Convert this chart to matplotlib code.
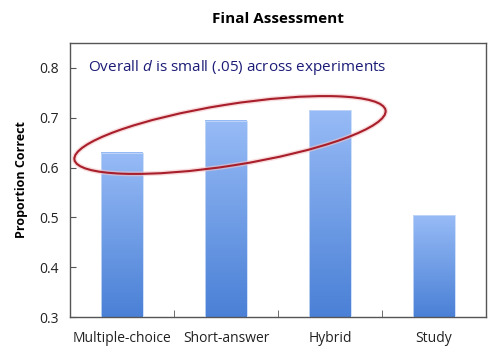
import numpy as np
import matplotlib
matplotlib.use("Agg")
import matplotlib.pyplot as plt
from matplotlib.patches import Ellipse
from matplotlib.colors import LinearSegmentedColormap

categories = ["Multiple-choice", "Short-answer", "Hybrid", "Study"]
values = [0.630, 0.694, 0.715, 0.504]
yticks = [0.3, 0.4, 0.5, 0.6, 0.7, 0.8]

plt.rcParams['font.family'] = ['Open Sans', 'DejaVu Sans']
plt.rcParams['mathtext.fontset'] = 'custom'
plt.rcParams['mathtext.it'] = 'Open Sans:italic'
plt.rcParams['mathtext.rm'] = 'Open Sans'

fig = plt.figure(figsize=(5, 3.52), dpi=100)
ax = fig.add_axes([0.14, 0.0994, 0.832, 0.7786])

x = np.arange(len(categories))
bars = ax.bar(x, values, width=0.4, bottom=0, color='none', edgecolor='none')
ax.set_xlim(-0.5, len(categories) - 0.5)
ax.set_ylim(0.3, 0.85)

# gradient fill for each bar
cmap = LinearSegmentedColormap.from_list("bluegrad", ["#4a80d6", "#97bbf6"])
grad = np.linspace(0, 1, 256).reshape(-1, 1)
for b in bars:
    x0 = b.get_x()
    x1 = x0 + b.get_width()
    top = b.get_height()
    ax.imshow(grad, cmap=cmap, origin='lower', aspect='auto',
              extent=[x0, x1, 0.3, top], zorder=2)
    ax.plot([x0, x0, x1, x1], [0.3, top, top, 0.3], color='#c7daf7',
            lw=0.6, zorder=3)

ax.set_yticks(yticks)
ax.set_yticklabels(["%.1f" % v for v in yticks], fontsize=10, color='#222222')
ax.set_xticks(x)
ax.set_xticklabels(categories, fontsize=10, color='#222222')
ax.set_xticks(np.arange(0.5, len(categories) - 1), minor=True)
ax.tick_params(axis='x', which='major', length=0, pad=10)
ax.tick_params(axis='x', which='minor', direction='in', length=5, color='#555555')
ax.tick_params(axis='y', direction='in', length=4, color='#555555', pad=8)
for s in ax.spines.values():
    s.set_color('#555555')
    s.set_linewidth(1.0)

ax.set_ylabel("Proportion Correct", fontsize=9, fontweight='bold', labelpad=8)
ax.set_title("Final Assessment", fontsize=11, fontweight='bold', pad=14)

ax.text(0.043, 0.80, "Overall $d$ is small (.05) across experiments",
        transform=ax.get_yaxis_transform(), fontsize=11, color='#1c1c78',
        va='center')

# red ellipse with soft glow
for lw, col, a in [(3.5, '#f4c4c6', 0.6), (1.5, '#a81e2a', 1.0)]:
    e = Ellipse((2.30, 2.17), 3.15, 0.61, angle=9, fill=False, lw=lw,
                edgecolor=col, alpha=a, transform=fig.dpi_scale_trans, zorder=5)
    fig.add_artist(e)

fig.savefig("out.png", dpi=100)
